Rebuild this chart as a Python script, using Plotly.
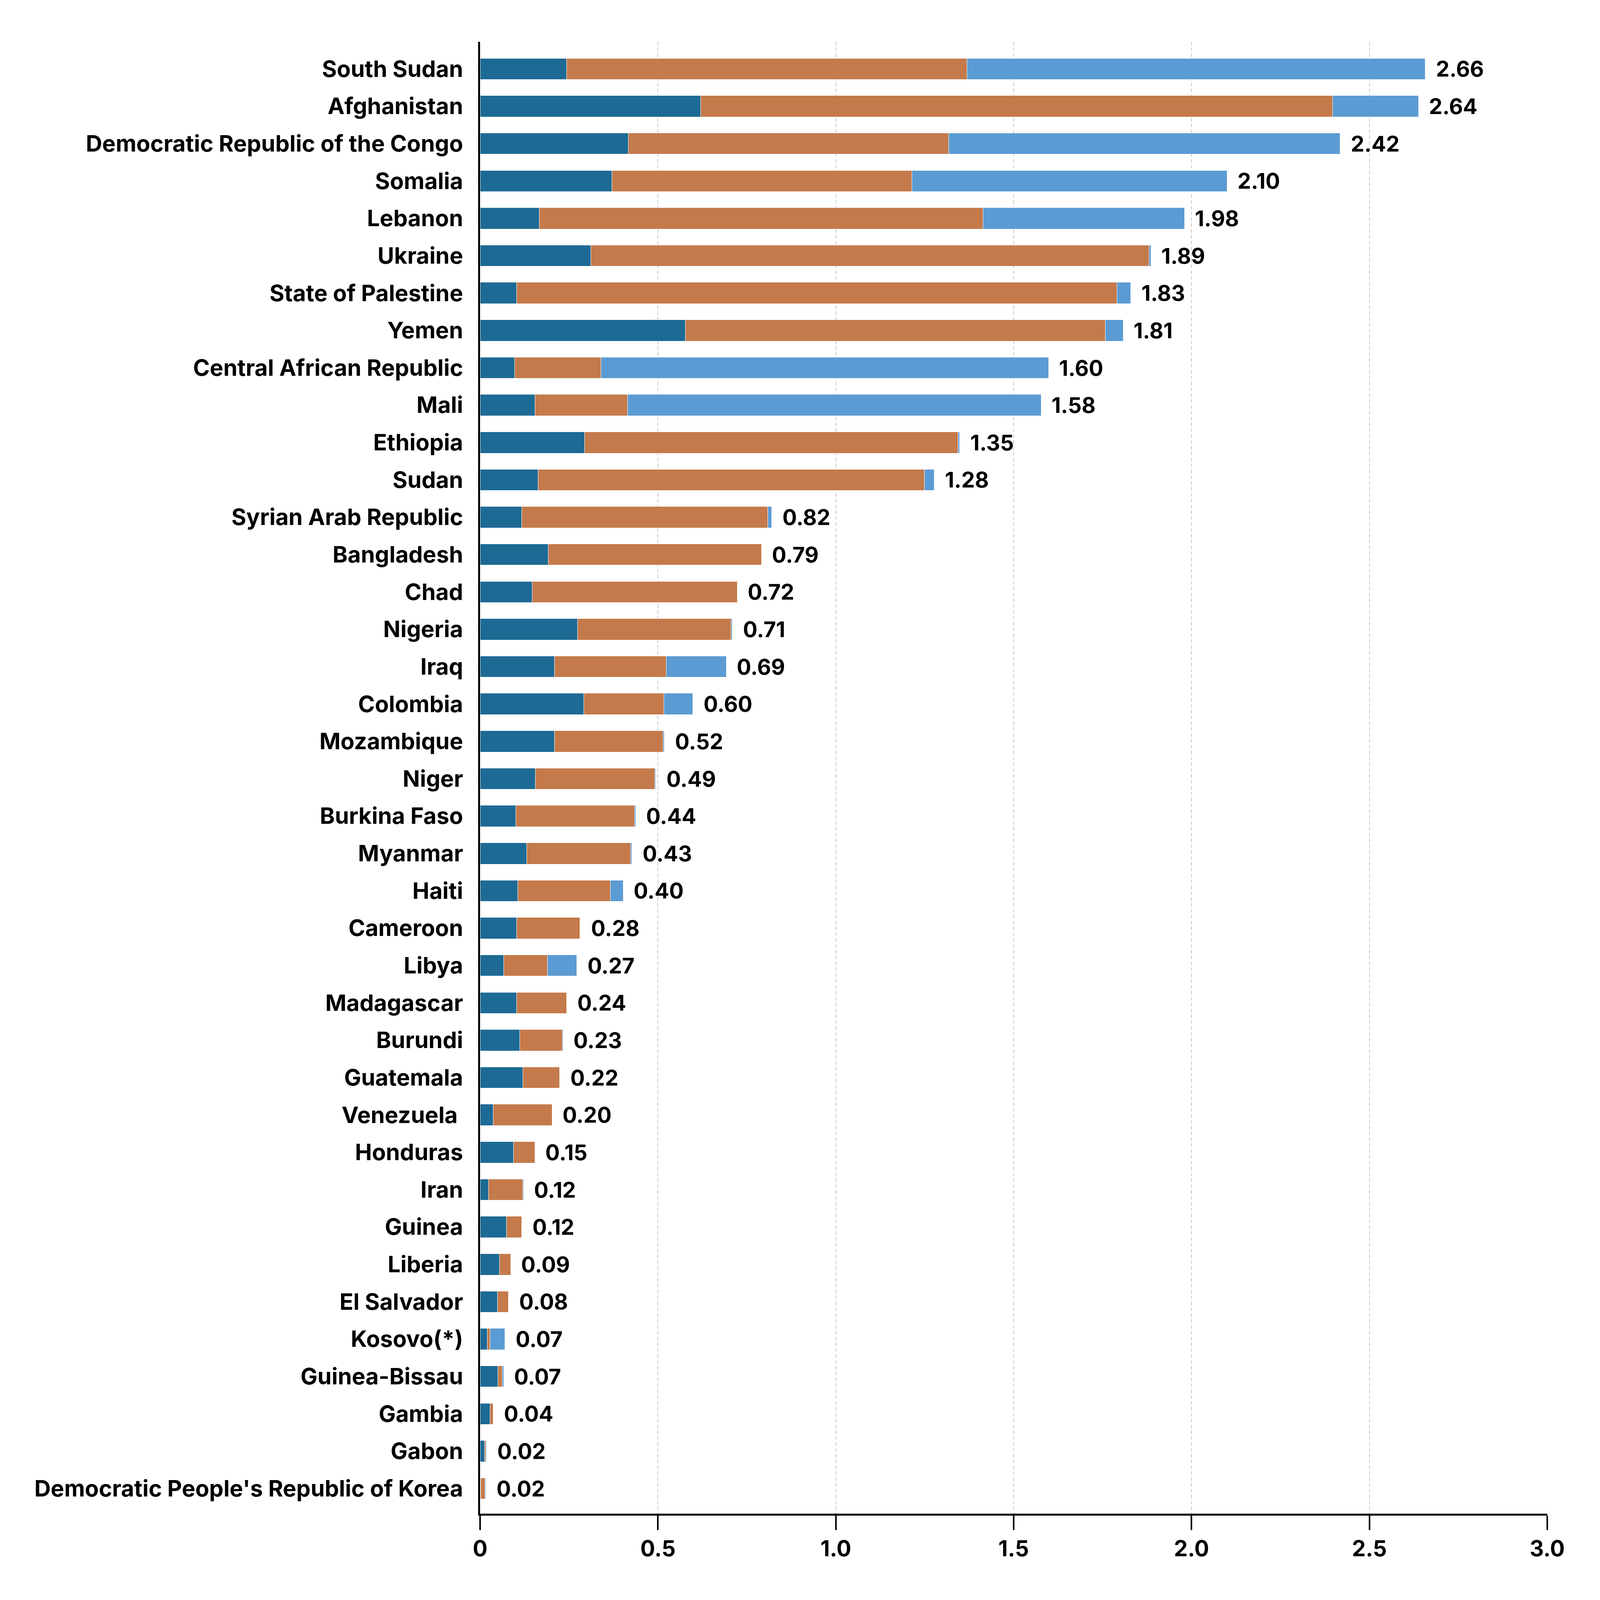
import plotly.graph_objects as go

# countries, top to bottom
countries = [
    "South Sudan", "Afghanistan", "Democratic Republic of the Congo", "Somalia",
    "Lebanon", "Ukraine", "State of Palestine", "Yemen", "Central African Republic",
    "Mali", "Ethiopia", "Sudan", "Syrian Arab Republic", "Bangladesh", "Chad",
    "Nigeria", "Iraq", "Colombia", "Mozambique", "Niger", "Burkina Faso", "Myanmar",
    "Haiti", "Cameroon", "Libya", "Madagascar", "Burundi", "Guatemala", "Venezuela ",
    "Honduras", "Iran", "Guinea", "Liberia", "El Salvador", "Kosovo(*)",
    "Guinea-Bissau", "Gambia", "Gabon", "Democratic People's Republic of Korea",
]

# three stacked components (dark blue, orange, light blue)
part_dark = [
    0.243, 0.620, 0.417, 0.371, 0.166, 0.311, 0.103, 0.577, 0.097, 0.154,
    0.294, 0.163, 0.117, 0.191, 0.146, 0.274, 0.209, 0.291, 0.209, 0.155,
    0.100, 0.131, 0.106, 0.103, 0.066, 0.103, 0.111, 0.120, 0.037, 0.094,
    0.023, 0.074, 0.054, 0.049, 0.020, 0.050, 0.028, 0.013, 0.002,
]
part_orange = [
    1.126, 1.777, 0.900, 0.843, 1.248, 1.569, 1.688, 1.180, 0.243, 0.260,
    1.049, 1.086, 0.692, 0.600, 0.577, 0.432, 0.314, 0.226, 0.305, 0.336,
    0.334, 0.292, 0.260, 0.177, 0.123, 0.140, 0.120, 0.103, 0.165, 0.060,
    0.097, 0.043, 0.032, 0.031, 0.008, 0.012, 0.009, 0.003, 0.012,
]
part_light = [
    1.288, 0.241, 1.101, 0.886, 0.566, 0.006, 0.038, 0.051, 1.258, 1.163,
    0.005, 0.028, 0.011, 0.000, 0.000, 0.003, 0.169, 0.081, 0.004, 0.003,
    0.003, 0.004, 0.036, 0.002, 0.083, 0.001, 0.002, 0.001, 0.000, 0.000,
    0.002, 0.000, 0.000, 0.000, 0.042, 0.004, 0.000, 0.002, 0.002,
]

tick_vals = [0, 0.5, 1.0, 1.5, 2.0, 2.5, 3.0]
tick_text = ["0", "0.5", "1.0", "1.5", "2.0", "2.5", "3.0"]

totals = [a + b + c for a, b, c in zip(part_dark, part_orange, part_light)]

FONT = dict(family="Inter", color="black", weight="bold")

fig = go.Figure()
for vals, col in [(part_dark, "#1d6a95"), (part_orange, "#c47a4b"), (part_light, "#5b9bd3")]:
    fig.add_trace(go.Bar(
        x=vals, y=countries, orientation="h",
        marker=dict(color=col, line=dict(color="white", width=1)),
        showlegend=False,
    ))

# value labels at the end of each bar
for c, t in zip(countries, totals):
    fig.add_annotation(x=t, y=c, text=f"{t:.2f}", showarrow=False,
                       xanchor="left", xshift=25, font=dict(size=55, **FONT))

# plot area as fractions of the page so it follows the window size
fig.update_layout(
    barmode="stack",
    bargap=0.43,
    autosize=True,
    margin=dict(l=0, r=0, t=0, b=0, autoexpand=False),
    plot_bgcolor="white", paper_bgcolor="white",
)
fig.update_xaxes(
    domain=[1316 / 4397, 4260 / 4397],
    range=[0, 3], tickvals=tick_vals, ticktext=tick_text,
    showgrid=True, gridcolor="#c8c8c8", gridwidth=2, griddash="9px,6px",
    showline=True, linecolor="black", linewidth=5,
    ticks="outside", ticklen=37, tickwidth=4, tickcolor="black",
    tickfont=dict(size=56, **FONT), zeroline=False, automargin=False,
)
fig.update_yaxes(
    domain=[1 - 4078 / 4303, 1 - 104 / 4303],
    categoryorder="array", categoryarray=countries,
    range=[38.67, -0.73],
    showline=True, linecolor="black", linewidth=5,
    showgrid=False, ticks="", ticklabelstandoff=27,
    tickfont=dict(size=58, **FONT), automargin=False,
)

fig.write_html("out.html")
